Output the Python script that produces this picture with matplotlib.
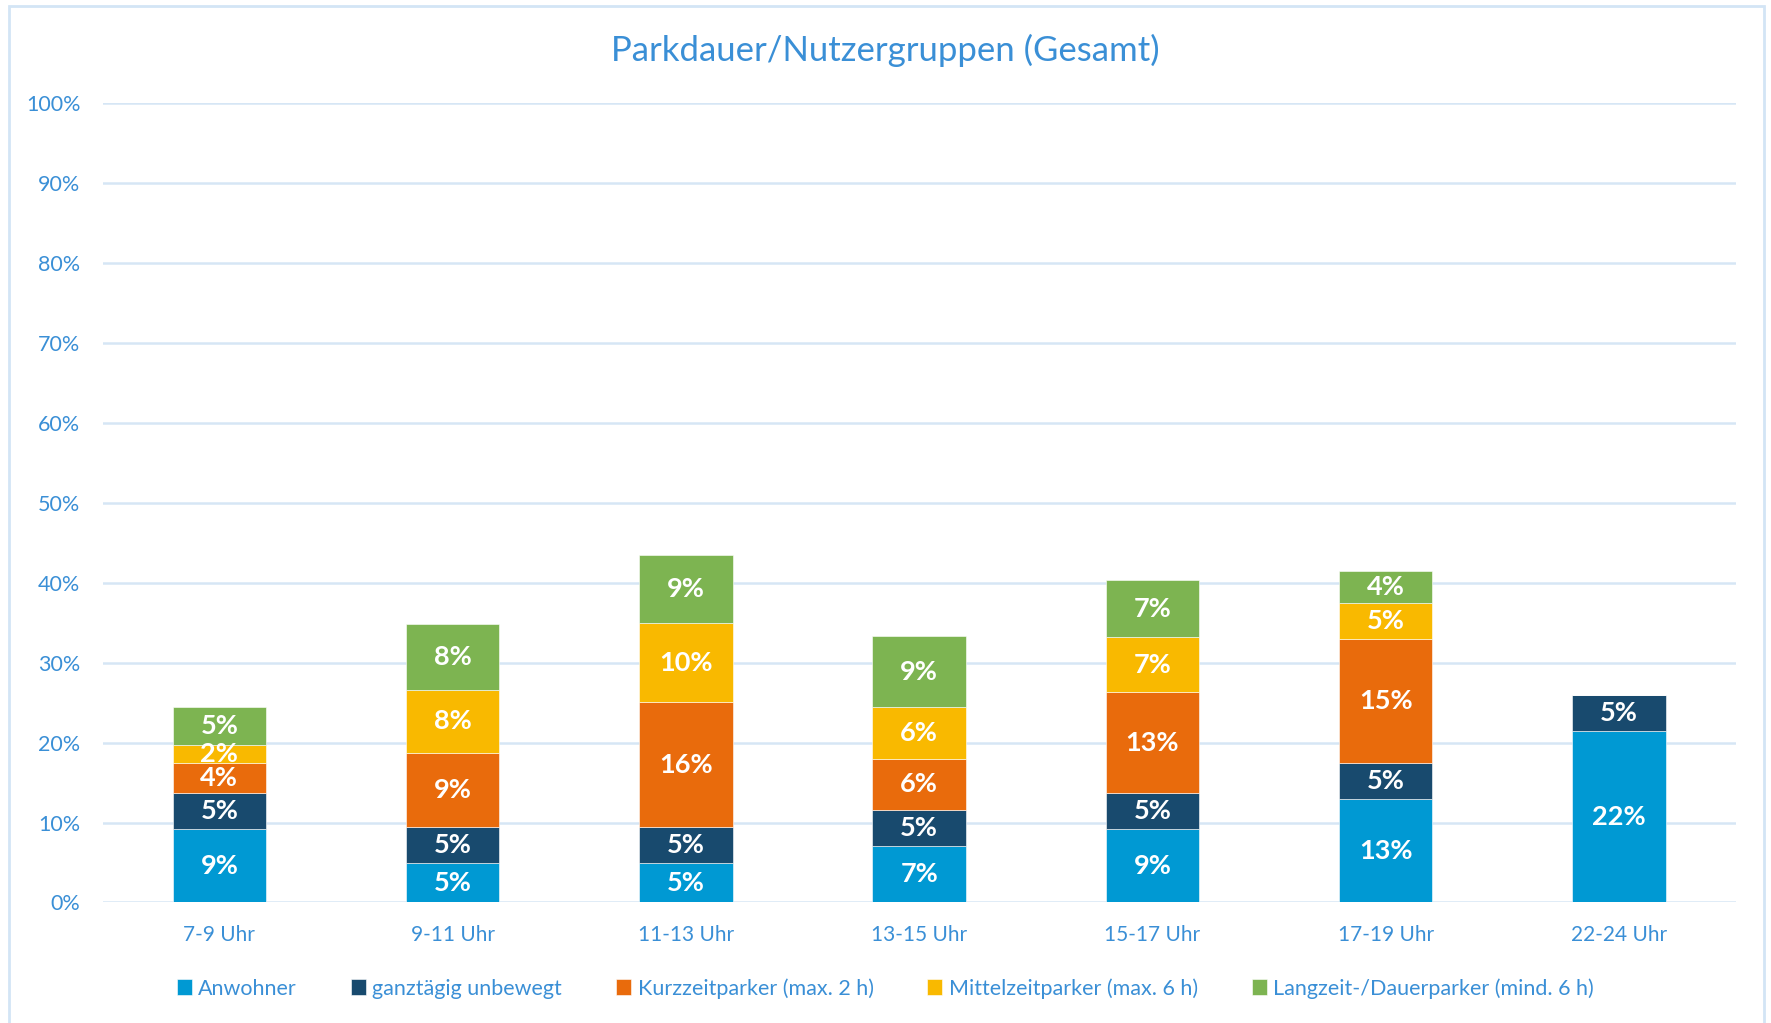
import matplotlib
matplotlib.use("Agg")
import matplotlib.pyplot as plt
from matplotlib.patches import Rectangle
import numpy as np

# Daten (Anteile in %)
categories = ["7-9 Uhr", "9-11 Uhr", "11-13 Uhr", "13-15 Uhr", "15-17 Uhr", "17-19 Uhr", "22-24 Uhr"]
anwohner = [9.2, 4.9, 4.9, 7.1, 9.2, 13.0, 21.5]
ganztaegig = [4.5, 4.5, 4.5, 4.5, 4.5, 4.5, 4.5]
kurzzeit = [3.8, 9.3, 15.7, 6.4, 12.6, 15.4, 0]
mittelzeit = [2.2, 7.9, 9.8, 6.4, 6.9, 4.5, 0]
langzeit = [4.7, 8.2, 8.6, 8.9, 7.1, 4.0, 0]
series_names = ["Anwohner", "ganztägig unbewegt", "Kurzzeitparker (max. 2 h)",
                "Mittelzeitparker (max. 6 h)", "Langzeit-/Dauerparker (mind. 6 h)"]
yticks = [0, 10, 20, 30, 40, 50, 60, 70, 80, 90, 100]

colors = ["#0099D3", "#184A6E", "#E96B0C", "#F9B900", "#7DB451"]
text_blue = "#3A8FD6"
grid_blue = "#D6E6F5"

plt.rcParams['font.family'] = ['Lato', 'DejaVu Sans']

fig = plt.figure(figsize=(17.71, 10.23), dpi=100)
ax = fig.add_axes([0.058, 0.1178, 0.922, 0.7817])

x = np.arange(len(categories))
bottom = np.zeros(len(categories))
all_series = [anwohner, ganztaegig, kurzzeit, mittelzeit, langzeit]
for vals, col, name in zip(all_series, colors, series_names):
    vals = np.array(vals, dtype=float)
    ax.bar(x, vals, 0.40, bottom=bottom, color=col, label=name,
           edgecolor="white", linewidth=0.4, zorder=3)
    for xi, v, b in zip(x, vals, bottom):
        if v > 0:
            ax.text(xi, b + v / 2, f"{int(v + 0.5)}%", ha="center", va="center",
                    color="white", fontsize=19.5, fontweight="bold", zorder=4)
    bottom += vals

ax.set_xlim(-0.5, len(categories) - 0.5)
ax.set_ylim(0, 100)
ax.set_yticks(yticks)
ax.set_yticklabels([f"{t}%" for t in yticks])
ax.set_xticks(x)
ax.set_xticklabels(categories)
ax.tick_params(axis="y", length=0, pad=16, labelsize=15.5, labelcolor=text_blue)
ax.tick_params(axis="x", length=0, pad=16, labelsize=15, labelcolor=text_blue)
ax.grid(axis="y", color=grid_blue, linewidth=1.8, zorder=0)
for s in ax.spines.values():
    s.set_visible(False)

fig.suptitle("Parkdauer/Nutzergruppen (Gesamt)", color=text_blue, fontsize=25,
             y=0.951, va="center")

leg = fig.legend(loc="center", bbox_to_anchor=(0.5, 0.034), ncol=5, frameon=False,
                 fontsize=15.5, handlelength=0.7, handleheight=0.7, handletextpad=0.3,
                 columnspacing=2.5)
for t in leg.get_texts():
    t.set_color(text_blue)

# hellblauer Rahmen um das Diagramm
fig.patches.append(Rectangle((0.005, -0.01), 0.991, 1.004, transform=fig.transFigure,
                             fill=False, edgecolor="#D3E5F5", linewidth=2))

fig.savefig("out.png", dpi=100)
